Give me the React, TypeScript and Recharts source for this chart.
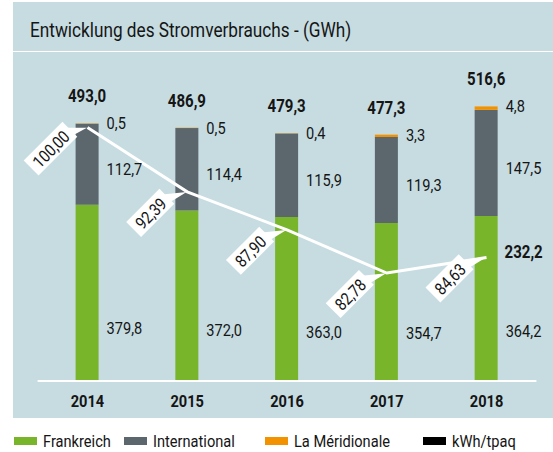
import { ComposedChart, Bar, Line, XAxis, YAxis, LabelList } from 'recharts';

const years = ['2014', '2015', '2016', '2017', '2018'];
const frankreich = [379.8, 372.0, 363.0, 354.7, 364.2];
const international = [112.7, 114.4, 115.9, 119.3, 147.5];
const meridionale = [0.5, 0.5, 0.4, 3.3, 4.8];
const totals = [493.0, 486.9, 479.3, 477.3, 516.6];
const kwhPerTpaq = [100.0, 92.39, 87.9, 82.78, 84.63];
const note2018 = 232.2; // bold figure printed right of the 2018 index point

const GREEN = '#78b52b';
const GRAY = '#5c666d';
const ORANGE = '#f39200';
const BG = '#c6dce1';
const FONT = 'Roboto, sans-serif';
const SX = 0.86; // squeeze Roboto to look like the condensed original

const W = 553;
const H = 452;
const PLOT_TOP = 60;
const PLOT_BOTTOM = 381;
const AXIS_H = 36;

const data = years.map((year, i) => ({
  year,
  frankreich: frankreich[i],
  international: international[i],
  meridionale: meridionale[i],
  kwh: kwhPerTpaq[i],
}));

const fmt = (v: number, d = 1) => Number(v).toFixed(d).replace('.', ',');

// condensed svg text
function T({ x, y, children, anchor = 'start', bold = false, size = 17 }: any) {
  return (
    <text
      transform={`translate(${x},${y}) scale(${SX},1)`}
      textAnchor={anchor}
      dominantBaseline="central"
      fontSize={size}
      fontWeight={bold ? 700 : 400}
      fontFamily={FONT}
      fill="#151515"
    >
      {children}
    </text>
  );
}

// value printed to the right of each bar segment
const sideLabel = (kind: 'fr' | 'int' | 'mer') => (props: any) => {
  const { x, y, width, height, value } = props;
  const top = Number(y);
  const bottom = Math.min(top + Number(height), PLOT_BOTTOM);
  let cy = top;
  if (kind === 'fr') cy = top + (bottom - top) * 0.7;
  if (kind === 'int') cy = (top + bottom) / 2 + 5;
  return <T x={Number(x) + Number(width) + 8} y={cy}>{fmt(value)}</T>;
};

const totalLabel = (props: any) => {
  const { x, y, width, index } = props;
  return (
    <T x={Number(x) + Number(width) / 2} y={Number(y) - 27} anchor="middle" bold size={17.5}>
      {fmt(totals[index])}
    </T>
  );
};

// rotated white tag for the kWh/tpaq index
const indexLabel = (props: any) => {
  const { x, y, value, index } = props;
  const txt = fmt(value, 2);
  const len = txt.length * 7.8 + 8;
  const cx = x - 37;
  const cy = y + 21;
  return (
    <g>
      <g transform={`translate(${cx},${cy}) rotate(-45)`}>
        <polygon points={`${len / 2 - 4},-6 ${len / 2 - 4},6 40.5,11`} fill="#fff" />
        <rect x={-len / 2} y={-10.5} width={len} height={21} fill="#fff" />
        <T x={0} y={1} anchor="middle">{txt}</T>
      </g>
      {index === years.length - 1 && (
        <T x={x + 18} y={y - 5} bold size={17.5}>{fmt(note2018)}</T>
      )}
    </g>
  );
};

const yearTick = (props: any) => {
  const { x, payload } = props;
  return <T x={x} y={PLOT_BOTTOM + 20} anchor="middle" bold>{payload.value}</T>;
};

const legendItems = [
  { name: 'Frankreich', color: GREEN, left: 14 },
  { name: 'International', color: GRAY, left: 124 },
  { name: 'La Méridionale', color: ORANGE, left: 265 },
  { name: 'kWh/tpaq', color: '#000', left: 423 },
];

const squeeze = { display: 'inline-block', transform: `scaleX(${SX})`, transformOrigin: 'left center', whiteSpace: 'nowrap' } as const;

export default function App() {
  return (
    <div style={{ position: 'absolute', left: 0, top: 0, width: W, height: H, background: '#fff', fontFamily: FONT }}>
      <div style={{ position: 'absolute', left: 13, top: 2, width: 540, height: 49, background: BG }}>
        <div style={{ position: 'absolute', left: 17, top: 17, fontSize: 20, lineHeight: '22px', color: '#151515', ...squeeze }}>
          Entwicklung des Stromverbrauchs - (GWh)
        </div>
      </div>
      <div style={{ position: 'absolute', left: 13, top: 52, width: 540, height: 366, background: BG }} />
      <div style={{ position: 'absolute', left: 0, top: 0 }}>
        <ComposedChart
          width={W}
          height={H}
          data={data}
          margin={{ top: PLOT_TOP, left: 37.6, right: 16.6, bottom: H - PLOT_BOTTOM - AXIS_H }}
        >
          <XAxis
            dataKey="year"
            height={AXIS_H}
            interval={0}
            tickLine={false}
            axisLine={{ stroke: '#fff', strokeWidth: 2 }}
            tick={yearTick}
          />
          <YAxis yAxisId="gwh" hide domain={[135, 581]} allowDataOverflow />
          <YAxis yAxisId="kwh" hide domain={[70, 108]} allowDataOverflow />
          <Bar yAxisId="gwh" dataKey="frankreich" stackId="s" fill={GREEN} barSize={23} isAnimationActive={false}>
            <LabelList dataKey="frankreich" content={sideLabel('fr')} />
          </Bar>
          <Bar yAxisId="gwh" dataKey="international" stackId="s" fill={GRAY} barSize={23} isAnimationActive={false}>
            <LabelList dataKey="international" content={sideLabel('int')} />
          </Bar>
          <Bar yAxisId="gwh" dataKey="meridionale" stackId="s" fill={ORANGE} barSize={23} isAnimationActive={false}>
            <LabelList dataKey="meridionale" content={sideLabel('mer')} />
            <LabelList dataKey="meridionale" content={totalLabel} />
          </Bar>
          <Line yAxisId="kwh" dataKey="kwh" stroke="#fff" strokeWidth={3} dot={false} isAnimationActive={false}>
            <LabelList dataKey="kwh" content={indexLabel} />
          </Line>
        </ComposedChart>
      </div>
      {legendItems.map((it) => (
        <div key={it.name} style={{ position: 'absolute', left: it.left, top: 430, height: 22 }}>
          <span style={{ position: 'absolute', left: 0, top: 7, width: 23, height: 8, background: it.color }} />
          <span style={{ position: 'absolute', left: 29, top: 0, fontSize: 17, lineHeight: '22px', color: '#151515', ...squeeze }}>
            {it.name}
          </span>
        </div>
      ))}
    </div>
  );
}
